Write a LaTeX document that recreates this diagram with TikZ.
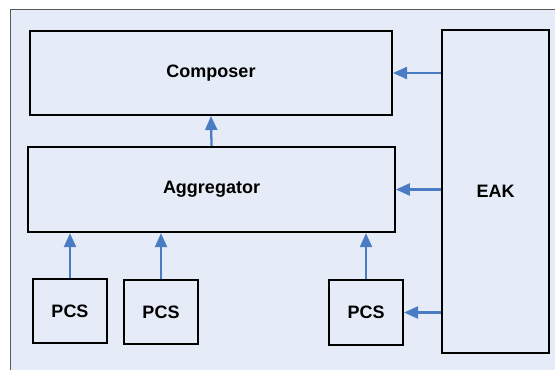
\documentclass[tikz,border=0pt]{standalone}
\usepackage{fontspec}
\setmainfont{Liberation Sans}
\usetikzlibrary{arrows.meta}

\definecolor{bgblue}{HTML}{E6ECF7}
\definecolor{arrowblue}{HTML}{4A7CC4}

\begin{document}
\begin{tikzpicture}[x=0.75pt, y=-0.75pt,
		block/.style={draw=black, line width=1.5pt, rectangle, font=\fontsize{13.5}{16}\selectfont\bfseries},
		flow/.style={arrowblue, line width=1.7pt, -{Triangle[length=10.5pt, width=9pt]}}]
		\useasboundingbox (0, 0) rectangle (555, 370);
		\fill[bgblue] (10, 9) rectangle (555, 370);
		\draw[gray!70!black, line width=0.6pt] (10, 370) -- (10, 9) -- (555, 9);

		\node[block, minimum width=271.5pt, minimum height=63pt] (comp) at (211, 73) {Composer};
		\node[block, minimum width=275pt, minimum height=64pt] (agg) at (211.5, 189.5) {Aggregator};
		\node[block, minimum width=80pt, minimum height=241.5pt] (eak) at (495.5, 191.5) {EAK};
		\node[block, minimum width=55.5pt, minimum height=48pt] (pcsa) at (70, 311) {PCS};
		\node[block, minimum width=55pt, minimum height=48.5pt] (pcsb) at (161, 312) {PCS};
		\node[block, minimum width=55.5pt, minimum height=48.5pt] (pcsc) at (366, 312.5) {PCS};

		\draw[flow] (eak.west |- comp.east) -- (comp.east);
		\draw[flow] (agg.north) -- (comp.south);
		\draw[flow] (eak.west |- agg.east) -- (agg.east);
		\draw[flow] (eak.west |- pcsc.east) -- (pcsc.east);
		\draw[flow] (pcsa.north) -- (pcsa.north |- agg.south);
		\draw[flow] (pcsb.north) -- (pcsb.north |- agg.south);
		\draw[flow] (pcsc.north) -- (pcsc.north |- agg.south);
	\end{tikzpicture}
\end{document}
